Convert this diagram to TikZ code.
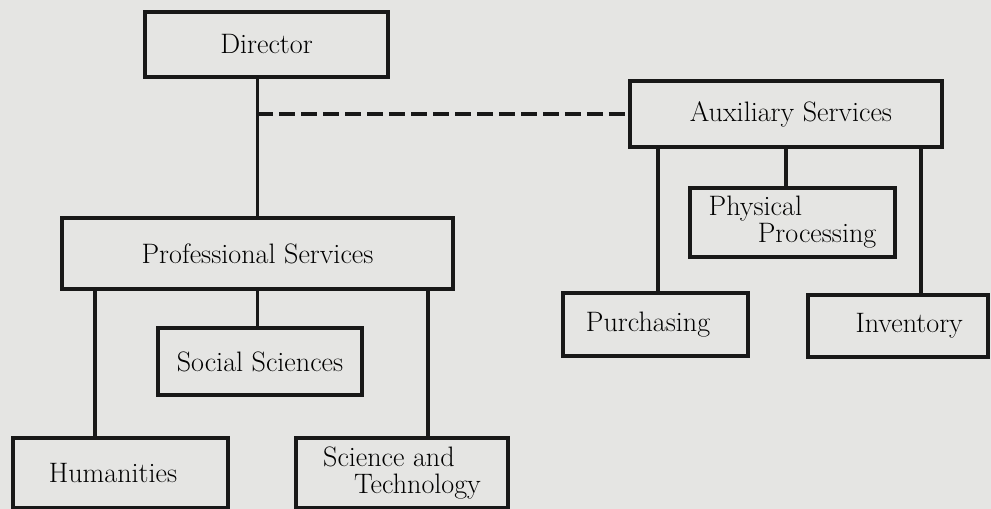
\documentclass[tikz,border=0pt]{standalone}
\usepackage{xcolor}
\usepackage{tikz}
\usetikzlibrary{positioning, calc}

\definecolor{paper}{RGB}{229,229,227}
\definecolor{ink}{RGB}{24,24,24}

\begin{document}
\begin{tikzpicture}[
    x=0.02cm,
    y=-0.02cm,
    block/.style={
        rectangle,
        draw=ink,
        line width=2.6pt,
        fill=paper,
        inner sep=0pt,
        font=\fontsize{16}{15.5}\selectfont
    },
    line/.style={
        draw=ink,
        line width=2.2pt
    },
    dashline/.style={
        line,
        dash pattern=on 9pt off 3.5pt
    }
]

% Background
\fill[paper] (0,0) rectangle (991,509);
\useasboundingbox (0,0) rectangle (991,509);

% Nodes
\node[block, minimum width=4.86cm, minimum height=1.3cm] (dir) at (266.5,44.5) {Director};
\node[block, minimum width=6.24cm, minimum height=1.32cm] (aux) at (786,114) {\hspace{0.2cm}Auxiliary Services};
\node[block, minimum width=7.82cm, minimum height=1.42cm] (ps) at (257.5,253.5) {Professional Services};
\node[block, minimum width=4.08cm, minimum height=1.34cm] (soc) at (260,361.5) {Social Sciences};
\node[block, minimum width=4.3cm, minimum height=1.4cm] (hum) at (120.5,473) {Humanities\hspace{0.3cm}\mbox{}};
\node[block, minimum width=4.24cm, minimum height=1.4cm, align=left] (sci) at (402,473) {Science and\\\hspace{1.1em}Technology};
\node[block, minimum width=4.1cm, minimum height=1.38cm, align=left] (phys) at (792.5,222.5) {Physical\\\hspace{1.75em}Processing};
\node[block, minimum width=3.7cm, minimum height=1.26cm] (pur) at (655.5,324.5) {Purchasing\hspace{0.3cm}\mbox{}};
\node[block, minimum width=3.6cm, minimum height=1.24cm] (inv) at (898,326) {\hspace{0.45cm}Inventory};

% Drop points
\coordinate (hx) at (95,0);
\coordinate (sx) at (428,0);
\coordinate (px) at (658,0);
\coordinate (ix) at (921,0);

% Lines
\draw[line] (ps.north) -- (ps.north |- dir.south);
\draw[dashline] (ps.north |- aux.west) -- (aux.west);
\draw[line] (ps.south) -- (ps.south |- soc.north);
\draw[line] (ps.south -| hx) -- (hum.north -| hx);
\draw[line] (ps.south -| sx) -- (sci.north -| sx);
\draw[line] (aux.south) -- (aux.south |- phys.north);
\draw[line] (aux.south -| px) -- (pur.north -| px);
\draw[line] (aux.south -| ix) -- (inv.north -| ix);

\end{tikzpicture}
\end{document}
